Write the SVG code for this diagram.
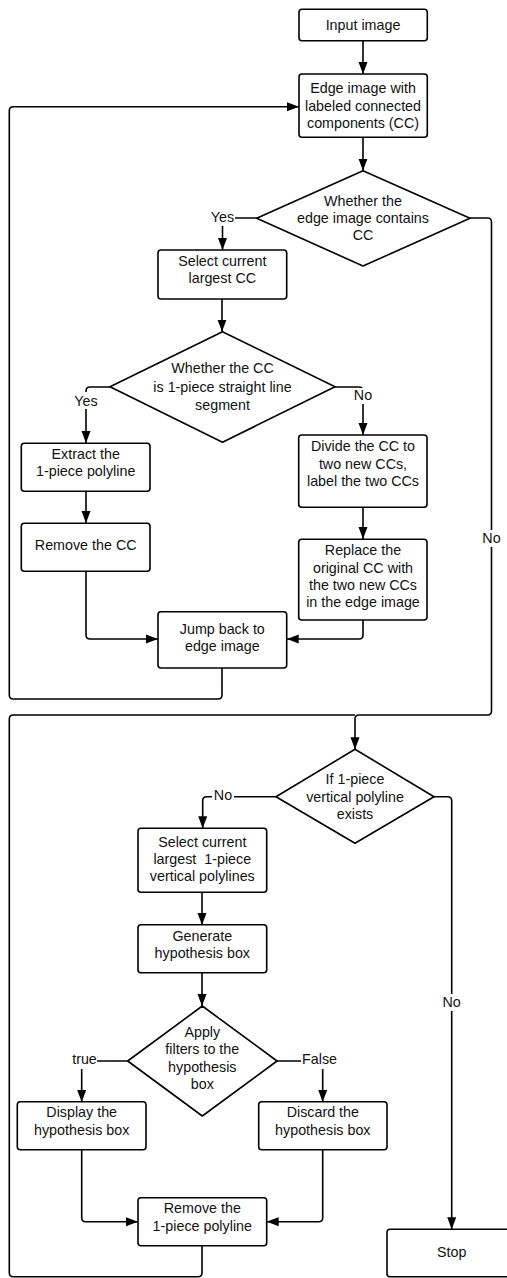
<svg xmlns="http://www.w3.org/2000/svg" width="507" height="1278" viewBox="0 0 507 1278">
<defs>
<style>
.box{fill:#fff;stroke:#000;stroke-width:1.6}
.t{font-family:"Liberation Sans",Arial,sans-serif;font-size:14.3px;fill:#111;text-anchor:middle}
.c{fill:none;stroke:#000;stroke-width:1.6}
.lb{fill:#fff}
</style>
<marker id="arr" markerWidth="12" markerHeight="10" refX="12" refY="5" orient="auto" markerUnits="userSpaceOnUse"><path d="M0,0.5 L12,5 L0,9.5 z" fill="#000"/></marker>
</defs>
<rect width="507" height="1278" fill="#fff"/>
<g id="connectors">
<path class="c" d="M363,41 V74" marker-end="url(#arr)"/>
<path class="c" d="M363,137 V170.7" marker-end="url(#arr)"/>
<path class="c" d="M256.7,218 H226.5 Q222.5,218 222.5,222 V250" marker-end="url(#arr)"/>
<path class="c" d="M470,218 H487.5 Q491.5,218 491.5,222 V711 Q491.5,715 487.5,715 H359 Q355,715 355,719 V749.3" marker-end="url(#arr)"/>
<path class="c" d="M222,299 V331.7" marker-end="url(#arr)"/>
<path class="c" d="M110,387 H90 Q86,387 86,391 V443" marker-end="url(#arr)"/>
<path class="c" d="M335,387 H359 Q363,387 363,391 V435" marker-end="url(#arr)"/>
<path class="c" d="M86,491 V523" marker-end="url(#arr)"/>
<path class="c" d="M363,507 V539" marker-end="url(#arr)"/>
<path class="c" d="M86,571 V635 Q86,639 90,639 H158" marker-end="url(#arr)"/>
<path class="c" d="M363,620 V635 Q363,639 359,639 H286.7" marker-end="url(#arr)"/>
<path class="c" d="M222,668 V695 Q222,699 218,699 H13.3 Q9.3,699 9.3,695 V110.7 Q9.3,106.7 13.3,106.7 H299" marker-end="url(#arr)"/>
<path class="c" d="M276,796.7 H206.7 Q202.7,796.7 202.7,800.7 V828.3" marker-end="url(#arr)"/>
<path class="c" d="M434,796.7 H447.7 Q451.7,796.7 451.7,800.7 V1229.3" marker-end="url(#arr)"/>
<path class="c" d="M202,892 V925" marker-end="url(#arr)"/>
<path class="c" d="M202,973 V1006" marker-end="url(#arr)"/>
<path class="c" d="M127.7,1061 H85.7 Q81.7,1061 81.7,1065 V1102" marker-end="url(#arr)"/>
<path class="c" d="M277,1061 H318.7 Q322.7,1061 322.7,1065 V1102" marker-end="url(#arr)"/>
<path class="c" d="M81.7,1150 V1217.7 Q81.7,1221.7 85.7,1221.7 H138" marker-end="url(#arr)"/>
<path class="c" d="M322.7,1150 V1217.7 Q322.7,1221.7 318.7,1221.7 H266.7" marker-end="url(#arr)"/>
<path class="c" d="M202,1246 V1272.7 Q202,1276.7 198,1276.7 H13.3 Q9.3,1276.7 9.3,1272.7 V719 Q9.3,715 13.3,715 H355"/>
<g id="labels">
<rect class="lb" x="210" y="210" width="25" height="16"/><text class="t" x="222.5" y="221.5">Yes</text>
<rect class="lb" x="73" y="392" width="26" height="17"/><text class="t" x="86" y="405.5">Yes</text>
<rect class="lb" x="353" y="388" width="20" height="16"/><text class="t" x="363" y="400">No</text>
<rect class="lb" x="481" y="530" width="21" height="17"/><text class="t" x="491.5" y="543">No</text>
<rect class="lb" x="212" y="789" width="22" height="15"/><text class="t" x="223" y="800">No</text>
<rect class="lb" x="441" y="994" width="21" height="17"/><text class="t" x="451.7" y="1006.5">No</text>
<rect class="lb" x="72" y="1052" width="25" height="17"/><text class="t" x="84.5" y="1064">true</text>
<rect class="lb" x="301" y="1052" width="37" height="17"/><text class="t" x="319.5" y="1064">False</text>
</g>
</g>
<g id="n-input"><rect class="box" x="299" y="9.3" width="128.3" height="31.4" rx="3"/><text class="t" x="363" y="30">Input image</text></g>
<g id="n-edge"><rect class="box" x="299" y="74" width="128.3" height="63.3" rx="3"/><text class="t" x="363"><tspan x="363" y="93">Edge image with</tspan><tspan x="363" y="110.5">labeled connected</tspan><tspan x="363" y="128">components (CC)</tspan></text></g>
<g id="n-d1"><polygon class="box" points="363,170.7 470,218.3 363,266 256.7,218.3" stroke-linejoin="round"/><text class="t"><tspan x="363" y="206">Whether the</tspan><tspan x="363" y="223">edge image contains</tspan><tspan x="363" y="240">CC</tspan></text></g>
<g id="n-selcc"><rect class="box" x="158" y="250" width="128.7" height="49" rx="3"/><text class="t"><tspan x="222.3" y="266">Select current</tspan><tspan x="222.3" y="283">largest CC</tspan></text></g>
<g id="n-d2"><polygon class="box" points="222.5,331.7 335,386.7 222.5,442.3 110,386.7" stroke-linejoin="round"/><text class="t"><tspan x="222.5" y="373">Whether the CC</tspan><tspan x="222.5" y="391.5">is 1-piece straight line</tspan><tspan x="222.5" y="409.5">segment</tspan></text></g>
<g id="n-extract"><rect class="box" x="21.3" y="443.3" width="128.7" height="48" rx="3"/><text class="t"><tspan x="85.7" y="459">Extract the</tspan><tspan x="85.7" y="476">1-piece polyline</tspan></text></g>
<g id="n-remove"><rect class="box" x="21.3" y="523.3" width="128.7" height="48" rx="3"/><text class="t" x="85.7" y="550">Remove the CC</text></g>
<g id="n-divide"><rect class="box" x="298.7" y="435" width="128.3" height="72.3" rx="3"/><text class="t"><tspan x="363" y="451">Divide the CC to</tspan><tspan x="363" y="468.5">two new CCs,</tspan><tspan x="363" y="486">label the two CCs</tspan></text></g>
<g id="n-replace"><rect class="box" x="298.7" y="539.3" width="128.3" height="80.7" rx="3"/><text class="t"><tspan x="363" y="555">Replace the</tspan><tspan x="363" y="572.5">original CC with</tspan><tspan x="363" y="590">the two new CCs</tspan><tspan x="363" y="607">in the edge image</tspan></text></g>
<g id="n-jump"><rect class="box" x="158" y="611.7" width="128.7" height="56.3" rx="3"/><text class="t"><tspan x="222.3" y="634">Jump back to</tspan><tspan x="222.3" y="651">edge image</tspan></text></g>
<g id="n-d3"><polygon class="box" points="355,749.3 434,796.7 355,843.3 276,796.7" stroke-linejoin="round"/><text class="t"><tspan x="355" y="784">If 1-piece</tspan><tspan x="355" y="801.5">vertical polyline</tspan><tspan x="355" y="819">exists</tspan></text></g>
<g id="n-selvp"><rect class="box" x="138" y="828.3" width="128.7" height="64" rx="3"/><text class="t" style="white-space:pre"><tspan x="202.3" y="846.5">Select current</tspan><tspan x="202.3" y="864">largest  1-piece</tspan><tspan x="202.3" y="881">vertical polylines</tspan></text></g>
<g id="n-gen"><rect class="box" x="138" y="924.7" width="128.7" height="48" rx="3"/><text class="t"><tspan x="202.3" y="940.5">Generate</tspan><tspan x="202.3" y="958">hypothesis box</tspan></text></g>
<g id="n-d4"><polygon class="box" points="202.3,1006 277,1061 202.3,1116 127.7,1061" stroke-linejoin="round"/><text class="t"><tspan x="202.3" y="1037">Apply</tspan><tspan x="202.3" y="1054">filters to the</tspan><tspan x="202.3" y="1071.5">hypothesis</tspan><tspan x="202.3" y="1089">box</tspan></text></g>
<g id="n-display"><rect class="box" x="17.3" y="1101.7" width="128.7" height="48" rx="3"/><text class="t"><tspan x="81.7" y="1117">Display the</tspan><tspan x="81.7" y="1134.5">hypothesis box</tspan></text></g>
<g id="n-discard"><rect class="box" x="258.7" y="1101.7" width="128.3" height="48" rx="3"/><text class="t"><tspan x="322.8" y="1117">Discard the</tspan><tspan x="322.8" y="1134.5">hypothesis box</tspan></text></g>
<g id="n-removep"><rect class="box" x="138" y="1197.7" width="128.7" height="48" rx="3"/><text class="t"><tspan x="202.3" y="1213">Remove the</tspan><tspan x="202.3" y="1230.5">1-piece polyline</tspan></text></g>
<g id="n-stop"><rect class="box" x="387" y="1229.3" width="129.4" height="47.4" rx="3"/><text class="t" x="451.7" y="1256.5">Stop</text></g>
</svg>
